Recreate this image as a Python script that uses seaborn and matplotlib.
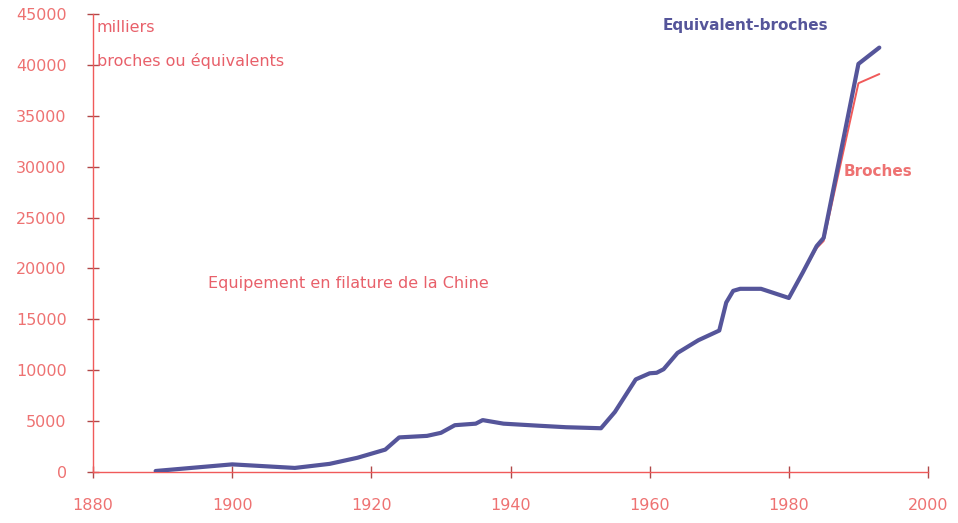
"""Equipement en filature de la Chine, 1889-1993."""
import pandas as pd
import matplotlib.pyplot as plt
import seaborn as sns

# valeurs (milliers de broches)
years = [1889, 1900, 1909, 1914, 1918, 1921, 1922, 1924, 1928, 1930,
         1932, 1935, 1936, 1939, 1944, 1948, 1953, 1955, 1958, 1960,
         1961, 1962, 1964, 1967, 1970, 1971, 1972, 1973, 1976, 1980,
         1982, 1984, 1985, 1990, 1993]
equivalents = [100, 750, 400, 800, 1400, 2000, 2200, 3400, 3550, 3850,
               4600, 4750, 5100, 4750, 4550, 4400, 4300, 5900, 9100, 9700,
               9750, 10100, 11700, 12950, 13900, 16650, 17800, 18000, 18000, 17100,
               19600, 22200, 23000, 40100, 41700]
broches = [100, 750, 400, 800, 1400, 2000, 2200, 3400, 3550, 3850,
           4600, 4750, 5100, 4750, 4550, 4400, 4300, 5900, 9100, 9700,
           9750, 10100, 11700, 12950, 13900, 16650, 17800, 18000, 18000, 17100,
           19600, 22000, 22700, 38200, 39100]
x_ticks = [1880, 1900, 1920, 1940, 1960, 1980, 2000]
y_ticks = [0, 5000, 10000, 15000, 20000, 25000, 30000, 35000, 40000, 45000]

BLUE = "#55559a"
RED = "#f05a5a"
SALMON = "#ee7272"
TICK = "#b04848"

sns.set_style("white")
plt.rcParams["font.family"] = ["DejaVu Sans"]

df = pd.DataFrame({"annee": years, "equiv": equivalents, "broches": broches})

fig = plt.figure(figsize=(9.58, 5.23), dpi=100)
ax = fig.add_axes([0.0971, 0.0975, 0.8716, 0.8757])

# broches d'abord, l'equivalent-broches par-dessus
sns.lineplot(data=df, x="annee", y="broches", ax=ax, color=RED, linewidth=1.4)
sns.lineplot(data=df, x="annee", y="equiv", ax=ax, color=BLUE, linewidth=3.0)

ax.set_xlim(1880, 2000)
ax.set_ylim(0, 45000)
ax.set_xticks(x_ticks)
ax.set_yticks(y_ticks)
ax.set_xlabel("")
ax.set_ylabel("")

for side in ["top", "right"]:
    ax.spines[side].set_visible(False)
for side in ["left", "bottom"]:
    ax.spines[side].set_color(RED)
    ax.spines[side].set_linewidth(1.0)
    ax.spines[side].set_zorder(1)

ax.tick_params(axis="both", direction="inout", length=8, width=1,
               color=TICK, labelcolor=SALMON, labelsize=11.5,
               bottom=True, left=True)
ax.tick_params(axis="y", pad=15)
ax.tick_params(axis="x", pad=15)

ax.text(1880.5, 43700, "milliers", color="#e8606a", fontsize=11.5, va="center")
ax.text(1880.5, 40400, "broches ou équivalents", color="#e8606a",
        fontsize=11.5, va="center")
ax.text(1961.8, 43900, "Equivalent-broches", color=BLUE, fontsize=11,
        fontweight="bold", va="center")
ax.text(1987.9, 29500, "Broches", color=SALMON, fontsize=11,
        fontweight="bold", va="center")
ax.text(1896.5, 18500, "Equipement en filature de la Chine", color="#e8606a",
        fontsize=11.5, va="center")

plt.savefig("out.png", dpi=100)
